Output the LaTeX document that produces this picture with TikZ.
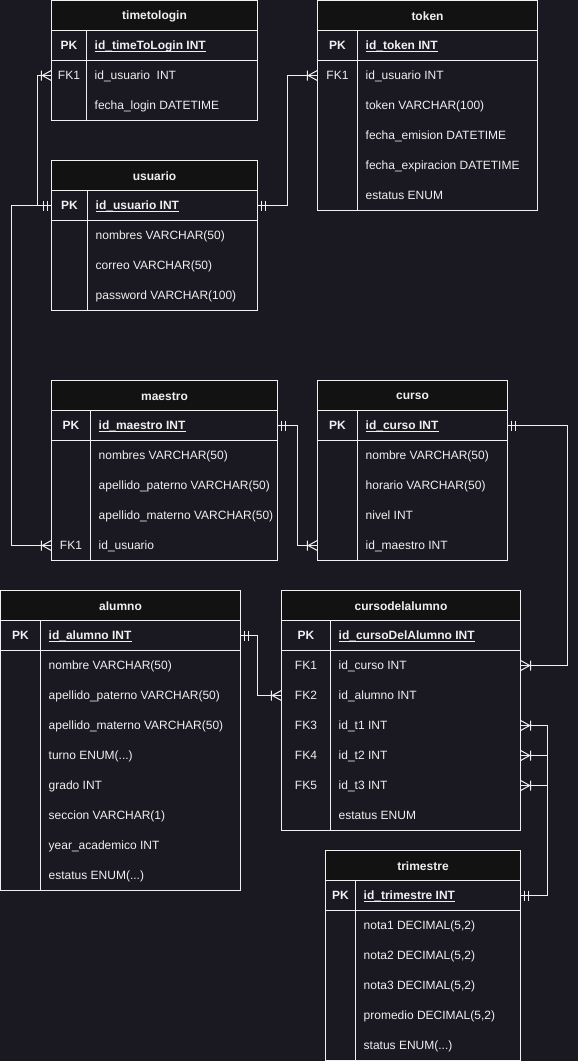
\documentclass[tikz,border=0pt]{standalone}
\usepackage{fontspec}
\setmainfont{Liberation Sans}

\definecolor{erbg}{RGB}{26,24,32}
\definecolor{erhead}{RGB}{18,18,18}
\definecolor{erwhite}{RGB}{240,240,240}

\newcommand{\erfont}{\fontsize{12}{14}\selectfont}
\newcommand{\erdots}{...}

\tikzset{
  erline/.style={draw=erwhite, line width=1pt},
  hdr/.style={inner sep=0, minimum height=30pt, yshift=-1pt, text=erwhite, font=\erfont\bfseries},
  keytxt/.style={inner sep=0, text height=9.5pt, text depth=1.5pt, text=erwhite, font=\erfont},
  fldtxt/.style={anchor=west, inner sep=0, text height=9.5pt, text depth=1.5pt, text=erwhite, font=\erfont},
  rel/.style={erline, line join=miter},
  one/.pic={\draw[erline] (-4,-5)--(-4,5) (-8,-5)--(-8,5);},
  many/.pic={\draw[erline] (0,-5)--(-9,0)--(0,5) (-10,-5)--(-10,5);}
}

% name, left, divider, right, top, body rows, primary key field
\newcommand{\ertable}[7]{%
  \pgfmathsetmacro\erw{#4-#2}
  \pgfmathsetmacro\erbot{#5+60+30*#6}
  \fill[erhead] (#2,#5) rectangle (#4,#5+30);
  \draw[erline] (#2,#5) rectangle (#4,\erbot)
    (#2,#5+30) -- (#4,#5+30) (#2,#5+60) -- (#4,#5+60) (#3,#5+30) -- (#3,\erbot);
  \node[hdr, minimum width=\erw pt] (#1) at ({(#2+#4)/2},#5+15) {#1};
  \node[keytxt, font=\erfont\bfseries] (#1-pk) at ({(#2+#3)/2},#5+45) {PK};
  \node[fldtxt, font=\erfont\bfseries] (#1-0) at (#3+8,#5+45) {#7};
  \draw[erline, line width=0.8pt] (#1-0.south west) -- (#1-0.south east);
}

\begin{document}
\begin{tikzpicture}[x=1pt,y=-1pt]
\fill[erbg] (0,0) rectangle (578,1061);
\useasboundingbox (0,0) rectangle (578,1061);

% timetologin
\ertable{timetologin}{51.5}{86.5}{257.5}{0.5}{2}{id\_timeToLogin INT}
\foreach \f [count=\i] in {id\_usuario\ \ INT, fecha\_login DATETIME}
  \node[fldtxt] (timetologin-\i) at (94.5,45.5+30*\i) {\f};
\node[keytxt] (timetologin-fk1) at (69,75.5) {FK1};

% token
\ertable{token}{317.5}{357.5}{537.5}{0.5}{5}{id\_token INT}
\foreach \f [count=\i] in {id\_usuario INT, token VARCHAR(100), fecha\_emision DATETIME,
    fecha\_expiracion DATETIME, estatus ENUM}
  \node[fldtxt] (token-\i) at (365.5,45.5+30*\i) {\f};
\node[keytxt] (token-fk1) at (337.5,75.5) {FK1};

% usuario
\ertable{usuario}{51.5}{87.5}{257.5}{160.5}{3}{id\_usuario INT}
\foreach \f [count=\i] in {nombres VARCHAR(50), correo VARCHAR(50), password VARCHAR(100)}
  \node[fldtxt] (usuario-\i) at (95.5,205.5+30*\i) {\f};

% maestro
\ertable{maestro}{51.5}{90.5}{277.5}{380.5}{4}{id\_maestro INT}
\foreach \f [count=\i] in {nombres VARCHAR(50), apellido\_paterno VARCHAR(50),
    apellido\_materno VARCHAR(50), id\_usuario}
  \node[fldtxt] (maestro-\i) at (98.5,425.5+30*\i) {\f};
\node[keytxt] (maestro-fk1) at (71,545.5) {FK1};

% curso
\ertable{curso}{317.5}{357.5}{507.5}{380.5}{4}{id\_curso INT}
\foreach \f [count=\i] in {nombre VARCHAR(50), horario VARCHAR(50), nivel INT, id\_maestro INT}
  \node[fldtxt] (curso-\i) at (365.5,425.5+30*\i) {\f};

% alumno
\ertable{alumno}{0.5}{40.5}{240.5}{590.5}{8}{id\_alumno INT}
\foreach \f [count=\i] in {nombre VARCHAR(50), apellido\_paterno VARCHAR(50),
    apellido\_materno VARCHAR(50), turno ENUM(\erdots), grado INT, seccion VARCHAR(1),
    year\_academico INT, estatus ENUM(\erdots)}
  \node[fldtxt] (alumno-\i) at (48.5,635.5+30*\i) {\f};

% cursodelalumno
\ertable{cursodelalumno}{281.5}{330.5}{520.5}{590.5}{6}{id\_cursoDelAlumno INT}
\foreach \f [count=\i] in {id\_curso INT, id\_alumno INT, id\_t1 INT, id\_t2 INT, id\_t3 INT,
    estatus ENUM}
  \node[fldtxt] (cursodelalumno-\i) at (338.5,635.5+30*\i) {\f};
\foreach \i in {1,2,3,4,5}
  \node[keytxt] (cursodelalumno-fk\i) at (306,635.5+30*\i) {FK\i};

% trimestre
\ertable{trimestre}{325.5}{355.5}{520.5}{850.5}{5}{id\_trimestre INT}
\foreach \f [count=\i] in {{nota1 DECIMAL(5,2)}, {nota2 DECIMAL(5,2)}, {nota3 DECIMAL(5,2)},
    {promedio DECIMAL(5,2)}, status ENUM(\erdots)}
  \node[fldtxt] (trimestre-\i) at (363.5,895.5+30*\i) {\f};

% relations
\draw[rel] (usuario-0 -| usuario.west) pic{one} -- ++(-14,0)
  |- (timetologin-1 -| timetologin.west) pic{many};
\draw[rel] (usuario-0 -| usuario.east) pic[xscale=-1]{one} -- ++(30,0)
  |- (token-1 -| token.west) pic{many};
\draw[rel] (usuario-0 -| usuario.west) -- ++(-40,0)
  |- (maestro-4 -| maestro.west) pic{many};
\draw[rel] (maestro-0 -| maestro.east) pic[xscale=-1]{one} -- ++(20,0)
  |- (curso-4 -| curso.west) pic{many};
\draw[rel] (curso-0 -| curso.east) pic[xscale=-1]{one} -- ++(60,0)
  |- (cursodelalumno-1 -| cursodelalumno.east) pic[xscale=-1]{many};
\draw[rel] (alumno-0 -| alumno.east) pic[xscale=-1]{one} -- ++(17,0)
  |- (cursodelalumno-2 -| cursodelalumno.west) pic{many};
\foreach \r in {3,4,5}
  \draw[rel] (trimestre-0 -| trimestre.east) pic[xscale=-1]{one} -- ++(27,0)
    |- (cursodelalumno-\r -| cursodelalumno.east) pic[xscale=-1]{many};
\end{tikzpicture}
\end{document}
